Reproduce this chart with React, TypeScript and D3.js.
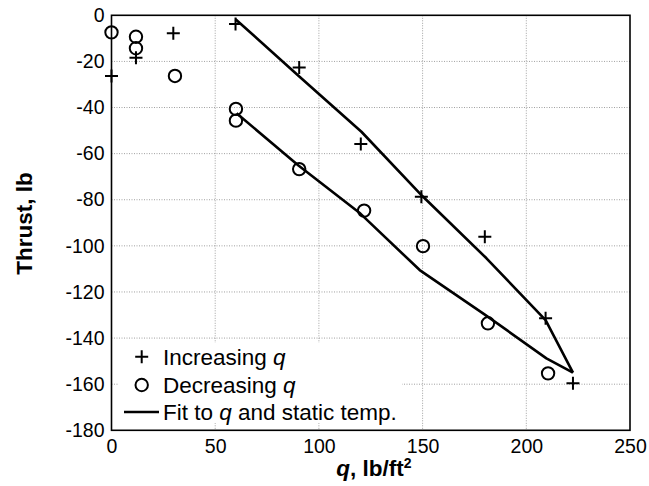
import React, { useEffect, useRef } from "react";
import * as d3 from "d3";

// Increasing q runs (+)
const incQ = [0, 11.8, 29.8, 59.8, 90.5, 120.2, 149.4, 180, 209.3, 222.5];
const incThrust = [-26.3, -18.4, -7.8, -3.8, -22.6, -55.8, -78.7, -96.0, -131.4, -159.6];

// Decreasing q runs (o)
const decQ = [0, 11.8, 11.8, 30.6, 60, 60, 90.5, 121.8, 150.2, 181.5, 210.5];
const decThrust = [-7.4, -9.3, -14.3, -26.3, -40.6, -45.7, -66.7, -84.7, -100.1, -133.6, -155.3];

// fit to q and static temp. (upper and lower branches)
const fitUpperQ = [59.8, 90, 120.5, 150, 180.8, 209.3, 222.5];
const fitUpperThrust = [-1.7, -26.1, -50.5, -78.5, -105.4, -132.2, -155];
const fitLowerQ = [60.3, 90, 120, 148.6, 180, 209.7, 222.5];
const fitLowerThrust = [-42.5, -65, -86, -110.5, -129.8, -148.8, -155];

const xTicks = [0, 50, 100, 150, 200, 250];
const yTicks = [0, -20, -40, -60, -80, -100, -120, -140, -160, -180];

const width = 649;
const height = 486;
const margin = { top: 15.3, right: 19, bottom: 55.7, left: 111.5 };

function App() {
  const svgRef = useRef<SVGSVGElement>(null);

  useEffect(() => {
    const root = d3.select(svgRef.current);
    root.selectAll("*").remove();
    const svg = root.append("g");
    const font = "'Liberation Sans', Arial, Helvetica, sans-serif";

    const x = d3
      .scaleLinear()
      .domain([0, 250])
      .range([margin.left, width - margin.right]);
    const y = d3
      .scaleLinear()
      .domain([-180, 0])
      .range([height - margin.bottom, margin.top]);

    // grid
    const grid = svg.append("g").attr("stroke", "#a0a0a0").attr("stroke-width", 1).attr("stroke-dasharray", "1,1.5");
    grid
      .selectAll("line.vx")
      .data(xTicks.slice(1, -1))
      .enter()
      .append("line")
      .attr("x1", (d) => x(d))
      .attr("x2", (d) => x(d))
      .attr("y1", y(0))
      .attr("y2", y(-180));
    grid
      .selectAll("line.hy")
      .data(yTicks.slice(1, -1))
      .enter()
      .append("line")
      .attr("x1", x(0))
      .attr("x2", x(250))
      .attr("y1", (d) => y(d))
      .attr("y2", (d) => y(d));

    // legend background
    svg
      .append("rect")
      .attr("x", 119)
      .attr("y", 343)
      .attr("width", 283)
      .attr("height", 80)
      .attr("fill", "white");

    // axes labels
    const xAxis = svg
      .append("g")
      .attr("transform", `translate(0,${y(-180)})`)
      .call(d3.axisBottom(x).tickValues(xTicks).tickSize(0).tickPadding(9));
    xAxis.select(".domain").remove();
    xAxis.selectAll("text").attr("font-size", 19.5).attr("font-family", font).attr("fill", "black");

    const yAxis = svg
      .append("g")
      .attr("transform", `translate(${x(0)},0)`)
      .call(d3.axisLeft(y).tickValues(yTicks).tickSize(0).tickPadding(7).tickFormat((d) => String(d)));
    yAxis.select(".domain").remove();
    yAxis.selectAll("text").attr("font-size", 19.5).attr("font-family", font).attr("fill", "black");

    // frame
    svg
      .append("rect")
      .attr("x", x(0))
      .attr("y", y(0))
      .attr("width", x(250) - x(0))
      .attr("height", y(-180) - y(0))
      .attr("fill", "none")
      .attr("stroke", "black")
      .attr("stroke-width", 1.6);

    // fit lines
    const line = d3
      .line<[number, number]>()
      .x((d) => x(d[0]))
      .y((d) => y(d[1]));
    const fits = [
      d3.zip(fitUpperQ, fitUpperThrust) as [number, number][],
      d3.zip(fitLowerQ, fitLowerThrust) as [number, number][],
    ];
    svg
      .selectAll("path.fit")
      .data(fits)
      .enter()
      .append("path")
      .attr("d", (d) => line(d))
      .attr("fill", "none")
      .attr("stroke", "black")
      .attr("stroke-width", 2.6)
      .attr("stroke-linejoin", "round");

    // markers
    const plus = (g: any, cx: number, cy: number) =>
      g
        .append("path")
        .attr("d", `M${cx - 6.5},${cy}H${cx + 6.5}M${cx},${cy - 6.5}V${cy + 6.5}`)
        .attr("stroke", "black")
        .attr("stroke-width", 2)
        .attr("fill", "none");
    const circ = (g: any, cx: number, cy: number) =>
      g
        .append("circle")
        .attr("cx", cx)
        .attr("cy", cy)
        .attr("r", 6.2)
        .attr("stroke", "black")
        .attr("stroke-width", 2)
        .attr("fill", "none");

    const marks = svg.append("g");
    incQ.forEach((q, i) => plus(marks, x(q), y(incThrust[i])));
    decQ.forEach((q, i) => circ(marks, x(q), y(decThrust[i])));

    // legend
    const leg = svg.append("g").attr("font-family", font).attr("font-size", 22.5).attr("fill", "black");
    plus(leg, 141.7, 356.7);
    circ(leg, 141.7, 385);
    leg
      .append("line")
      .attr("x1", 124)
      .attr("x2", 159)
      .attr("y1", 412)
      .attr("y2", 412)
      .attr("stroke", "black")
      .attr("stroke-width", 2.6);
    const labels = [
      ["Increasing ", "q", ""],
      ["Decreasing ", "q", ""],
      ["Fit to ", "q", " and static temp."],
    ];
    const ly = [364.5, 392.5, 420];
    labels.forEach((l, i) => {
      const t = leg.append("text").attr("x", 163).attr("y", ly[i]);
      t.append("tspan").text(l[0]);
      t.append("tspan").attr("font-style", "italic").text(l[1]);
      if (l[2]) t.append("tspan").text(l[2]);
    });

    // axis titles
    const xt = svg
      .append("text")
      .attr("x", 374)
      .attr("y", 476)
      .attr("text-anchor", "middle")
      .attr("font-family", font)
      .attr("font-weight", "bold")
      .attr("font-size", 22.5)
      .attr("fill", "black");
    xt.append("tspan").attr("font-style", "italic").text("q");
    xt.append("tspan").text(", lb/ft");
    xt.append("tspan").attr("font-size", 14).attr("dy", -8).text("2");

    svg
      .append("text")
      .attr("transform", `translate(32,223.5) rotate(-90)`)
      .attr("text-anchor", "middle")
      .attr("font-family", font)
      .attr("font-weight", "bold")
      .attr("font-size", 22.5)
      .attr("fill", "black")
      .text("Thrust, lb");
  }, []);

  return (
    <div style={{ position: "absolute", left: 0, top: 0 }}>
      <svg ref={svgRef} width={width} height={height} style={{ display: "block", background: "white" }} />
    </div>
  );
}

export default App;
